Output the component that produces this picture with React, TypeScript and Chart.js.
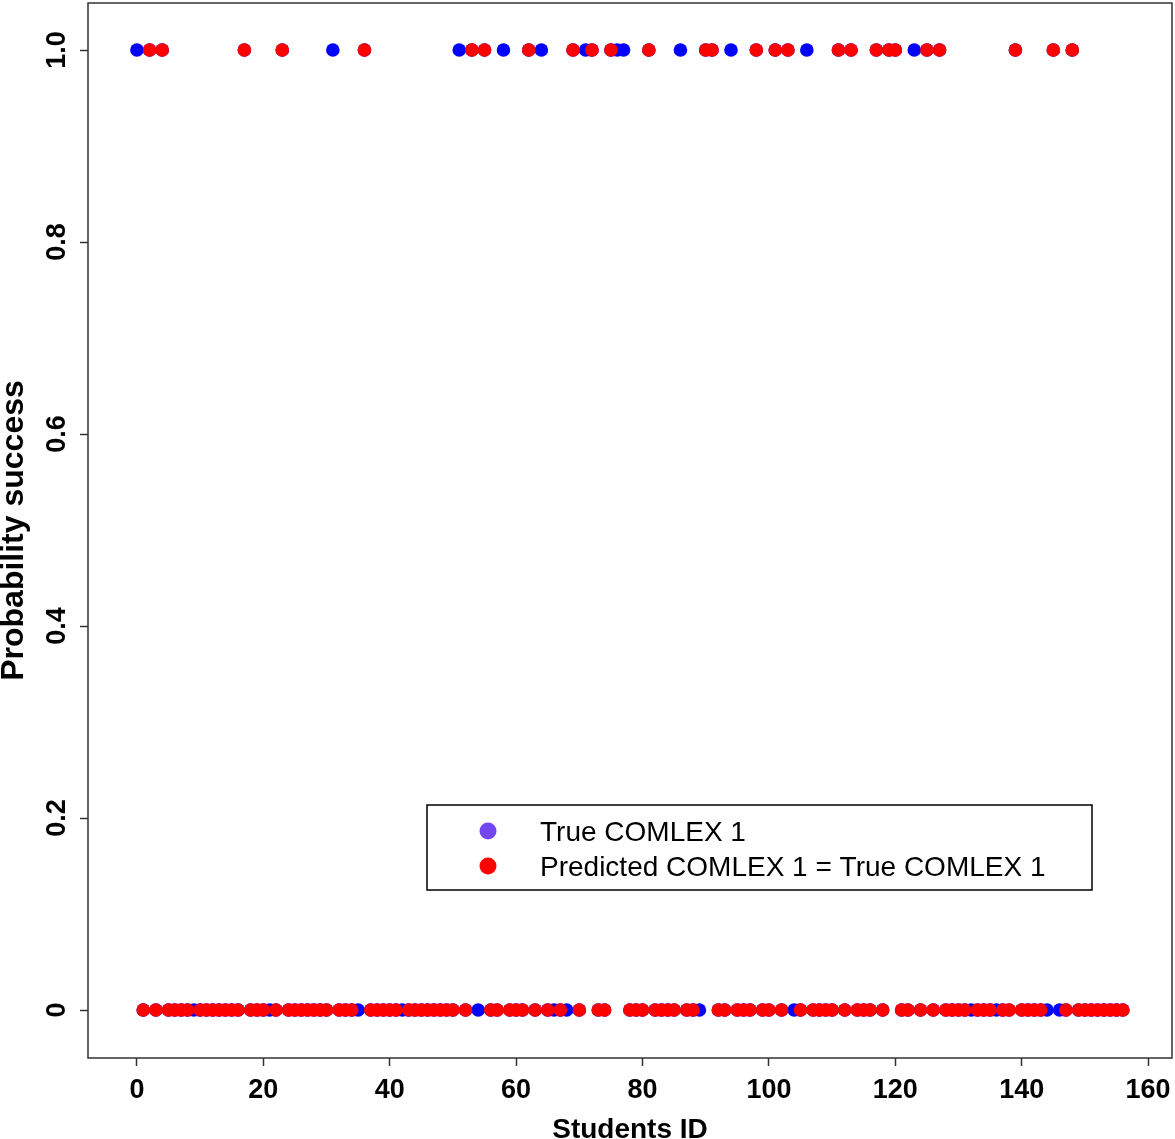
import React, { useEffect, useRef } from 'react';
import { Chart, registerables } from 'chart.js';

Chart.register(...registerables);

// True COMLEX 1 outcome per student (index = student ID 0..156)
const trueComlex = [
  1, 0, 1, 0, 1, 0, 0, 0, 0, 0,
  0, 0, 0, 0, 0, 0, 0, 1, 0, 0,
  0, 0, 0, 1, 0, 0, 0, 0, 0, 0,
  0, 1, 0, 0, 0, 0, 1, 0, 0, 0,
  0, 0, 0, 0, 0, 0, 0, 0, 0, 0,
  0, 1, 0, 1, 0, 1, 0, 0, 1, 0,
  0, 0, 1, 0, 1, 0, 0, 0, 0, 1,
  0, 1, 1, 0, 0, 1, 1, 1, 0, 0,
  0, 1, 0, 0, 0, 0, 1, 0, 0, 0,
  1, 1, 0, 0, 1, 0, 0, 0, 1, 0,
  0, 1, 0, 1, 0, 0, 1, 0, 0, 0,
  0, 1, 0, 1, 0, 0, 0, 1, 0, 1,
  1, 0, 0, 1, 0, 1, 0, 1, 0, 0,
  0, 0, 0, 0, 0, 0, 0, 0, 0, 1,
  0, 0, 0, 0, 0, 1, 0, 0, 1, 0,
  0, 0, 0, 0, 0, 0, 0,
];

// Predicted COMLEX 1 outcome per student
const predictedComlex = [
  0, 0, 1, 0, 1, 0, 0, 0, 0, 1,
  0, 0, 0, 0, 0, 0, 0, 1, 0, 0,
  0, 1, 0, 1, 0, 0, 0, 0, 0, 0,
  0, 0, 0, 0, 0, 1, 1, 0, 0, 0,
  0, 0, 1, 0, 0, 0, 0, 0, 0, 0,
  0, 0, 0, 1, 1, 1, 0, 0, 0, 0,
  0, 0, 1, 0, 0, 0, 1, 0, 1, 1,
  0, 0, 1, 0, 0, 1, 0, 0, 0, 0,
  0, 1, 0, 0, 0, 0, 0, 0, 0, 1,
  1, 1, 0, 0, 0, 0, 0, 0, 1, 0,
  0, 1, 0, 1, 1, 0, 0, 0, 0, 0,
  0, 1, 0, 1, 0, 0, 0, 1, 0, 1,
  1, 0, 0, 0, 0, 1, 0, 1, 0, 0,
  0, 0, 1, 0, 0, 0, 1, 0, 0, 1,
  0, 0, 0, 0, 1, 1, 1, 0, 1, 0,
  0, 0, 0, 0, 0, 0, 0,
];

const xTickLabels = ['0', '20', '40', '60', '80', '100', '120', '140', '160'];
const yTickLabels = ['0', '0.2', '0.4', '0.6', '0.8', '1.0'];
const legendLabels = ['True COMLEX 1', 'Predicted COMLEX 1 = True COMLEX 1'];
const legendColors = ['#7446f2', '#ff0000'];
const seriesColors = ['#0000ff', '#ff0000'];
const xTitle = 'Students ID';
const yTitle = 'Probability success';

const FONT = "'Liberation Sans', Arial, Helvetica, sans-serif";

const boxPlugin = {
  id: 'boxAndLegend',
  afterDraw(chart: any) {
    const { ctx, chartArea } = chart;
    ctx.save();
    ctx.strokeStyle = '#333333';
    ctx.lineWidth = 1.5;
    ctx.strokeRect(chartArea.left, chartArea.top, chartArea.right - chartArea.left, chartArea.bottom - chartArea.top);

    // legend box (R style, inside plot)
    const lx = 427, ly = 805, lw = 665, lh = 85;
    ctx.fillStyle = '#ffffff';
    ctx.fillRect(lx, ly, lw, lh);
    ctx.strokeStyle = '#000000';
    ctx.lineWidth = 1.5;
    ctx.strokeRect(lx, ly, lw, lh);
    ctx.font = `28px ${FONT}`;
    ctx.textBaseline = 'middle';
    ctx.textAlign = 'left';
    legendLabels.forEach((label, i) => {
      const cy = ly + 26 + i * 35;
      ctx.beginPath();
      ctx.fillStyle = legendColors[i];
      ctx.arc(488, cy, 8.5, 0, Math.PI * 2);
      ctx.fill();
      ctx.fillStyle = '#000000';
      ctx.fillText(label, 540, cy + 2);
    });
    ctx.restore();
  },
};

const zeroPad = (s: any) => {
  s.paddingTop = 0;
  s.paddingBottom = 0;
  s.paddingLeft = 0;
  s.paddingRight = 0;
};

export default function App() {
  const ref = useRef<HTMLCanvasElement | null>(null);

  useEffect(() => {
    if (!ref.current) return;
    const ids = trueComlex.map((_, i) => i);
    const trueData = ids.map((i) => ({ x: i, y: trueComlex[i] }));
    const correctData = ids
      .filter((i) => predictedComlex[i] === trueComlex[i])
      .map((i) => ({ x: i, y: trueComlex[i] }));

    const chart = new Chart(ref.current, {
      type: 'scatter',
      data: {
        datasets: [
          {
            label: legendLabels[0],
            data: trueData,
            backgroundColor: seriesColors[0],
            borderWidth: 0,
            pointRadius: 6.8,
            order: 1,
          },
          {
            label: legendLabels[1],
            data: correctData,
            backgroundColor: seriesColors[1],
            borderWidth: 0,
            pointRadius: 6.8,
            order: 0,
          },
        ],
      },
      options: {
        animation: false,
        responsive: false,
        layout: { autoPadding: false, padding: { top: 3, right: 3, left: 0, bottom: 0 } },
        plugins: { legend: { display: false }, tooltip: { enabled: false } },
        scales: {
          x: {
            type: 'linear',
            min: -7.74,
            max: 163.78,
            afterFit: (s: any) => { s.height = 81; zeroPad(s); },
            border: { display: false },
            grid: { drawOnChartArea: false, drawTicks: true, tickLength: 8, tickColor: '#333333', tickWidth: 1.5 },
            ticks: {
              stepSize: 20,
              includeBounds: false,
              autoSkip: false,
              maxRotation: 0,
              padding: 8,
              color: '#000000',
              font: { family: FONT, size: 27, weight: 'bold' },
              callback: (v: any) => xTickLabels[Math.round(Number(v) / 20)] ?? '',
            },
            title: {
              display: true,
              text: xTitle,
              color: '#000000',
              font: { family: FONT, size: 28, weight: 'bold', lineHeight: 1 },
              padding: { top: 0, bottom: -5 },
            },
          },
          y: {
            type: 'linear',
            min: -0.05,
            max: 1.049,
            afterFit: (s: any) => { s.width = 88; zeroPad(s); },
            border: { display: false },
            grid: { drawOnChartArea: false, drawTicks: true, tickLength: 8, tickColor: '#333333', tickWidth: 1.5 },
            ticks: {
              stepSize: 0.2,
              includeBounds: false,
              minRotation: 90,
              maxRotation: 90,
              crossAlign: 'center',
              padding: 4,
              color: '#000000',
              font: { family: FONT, size: 27, weight: 'bold' },
              callback: (v: any) => yTickLabels[Math.round(Number(v) / 0.2)] ?? '',
            },
            title: {
              display: true,
              text: yTitle,
              color: '#000000',
              font: { family: FONT, size: 32, weight: 'bold', lineHeight: 1 },
              padding: { top: -2, bottom: 0 },
            },
          },
        },
      },
      plugins: [boxPlugin],
    } as any);
    return () => chart.destroy();
  }, []);

  return (
    <div style={{ position: 'absolute', left: 0, top: 0, width: 1175, height: 1139, background: '#ffffff' }}>
      <canvas ref={ref} width={1175} height={1139} style={{ display: 'block' }} />
    </div>
  );
}
